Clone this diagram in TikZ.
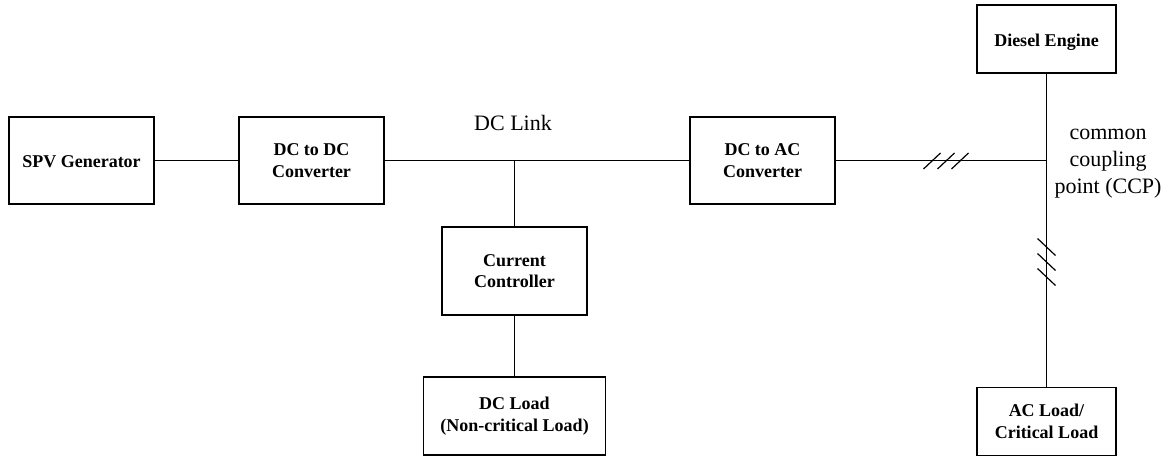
\documentclass[tikz,border=0pt]{standalone}
\usepackage{fontspec}
\setmainfont{Liberation Serif}
\begin{document}
\begin{tikzpicture}[x=1pt,y=-1pt,
  blk/.style={draw, line width=1.6pt, rectangle, align=center, inner sep=0pt,
    font=\fontsize{18}{21.5}\selectfont\bfseries},
  lowtext/.style={text height=15pt, text depth=0pt},
  wire/.style={line width=1.2pt},
  lbl/.style={align=center, inner sep=0pt, font=\fontsize{22}{27}\selectfont}]
\useasboundingbox (0,0) rectangle (1171,457);
\node[blk, lowtext, minimum width=145pt, minimum height=87pt] (spv) at (81.5,160.5) {SPV Generator};
\node[blk, minimum width=145pt, minimum height=87pt] (dcdc) at (311.5,160.5) {DC to DC\\Converter};
\node[blk, minimum width=145pt, minimum height=87pt] (dcac) at (762.5,160.5) {DC to AC\\Converter};
\node[blk, minimum width=145pt, minimum height=88pt] (cc) at (514.5,271) {Current\\Controller};
\node[blk, minimum width=182pt, minimum height=78pt] (dcload) at (514.5,416) {DC Load\\(Non-critical Load)};
\node[blk, lowtext, minimum width=139pt, minimum height=68pt] (diesel) at (1046.5,39) {Diesel Engine};
\node[blk, minimum width=139pt, minimum height=68pt] (acload) at (1046.5,421.5) {AC Load/\\Critical Load};
\coordinate (j1) at (514.5,160.5);
\coordinate (ccp) at (1046.5,160.5);
\node[lbl] (dclink) at (513,123) {DC Link};
\node[lbl] (ccplbl) at (1108,164) {common\\coupling\\point (CCP)};
\draw[wire] (spv.east) -- (dcdc.west);
\draw[wire] (dcdc.east) -- (dcac.west);
\draw[wire] (j1) -- (cc.north);
\draw[wire] (cc.south) -- (dcload.north);
\draw[wire] (dcac.east) -- (ccp);
\draw[wire] (diesel.south) -- (acload.north);
\foreach \x in {932,946,960} {
  \draw[wire] (\x-8.5,169) -- (\x+8.5,153);
}
\foreach \y in {247,262,277} {
  \draw[wire] (1037.5,\y-8.5) -- (1055.5,\y+8.5);
}
\end{tikzpicture}
\end{document}
